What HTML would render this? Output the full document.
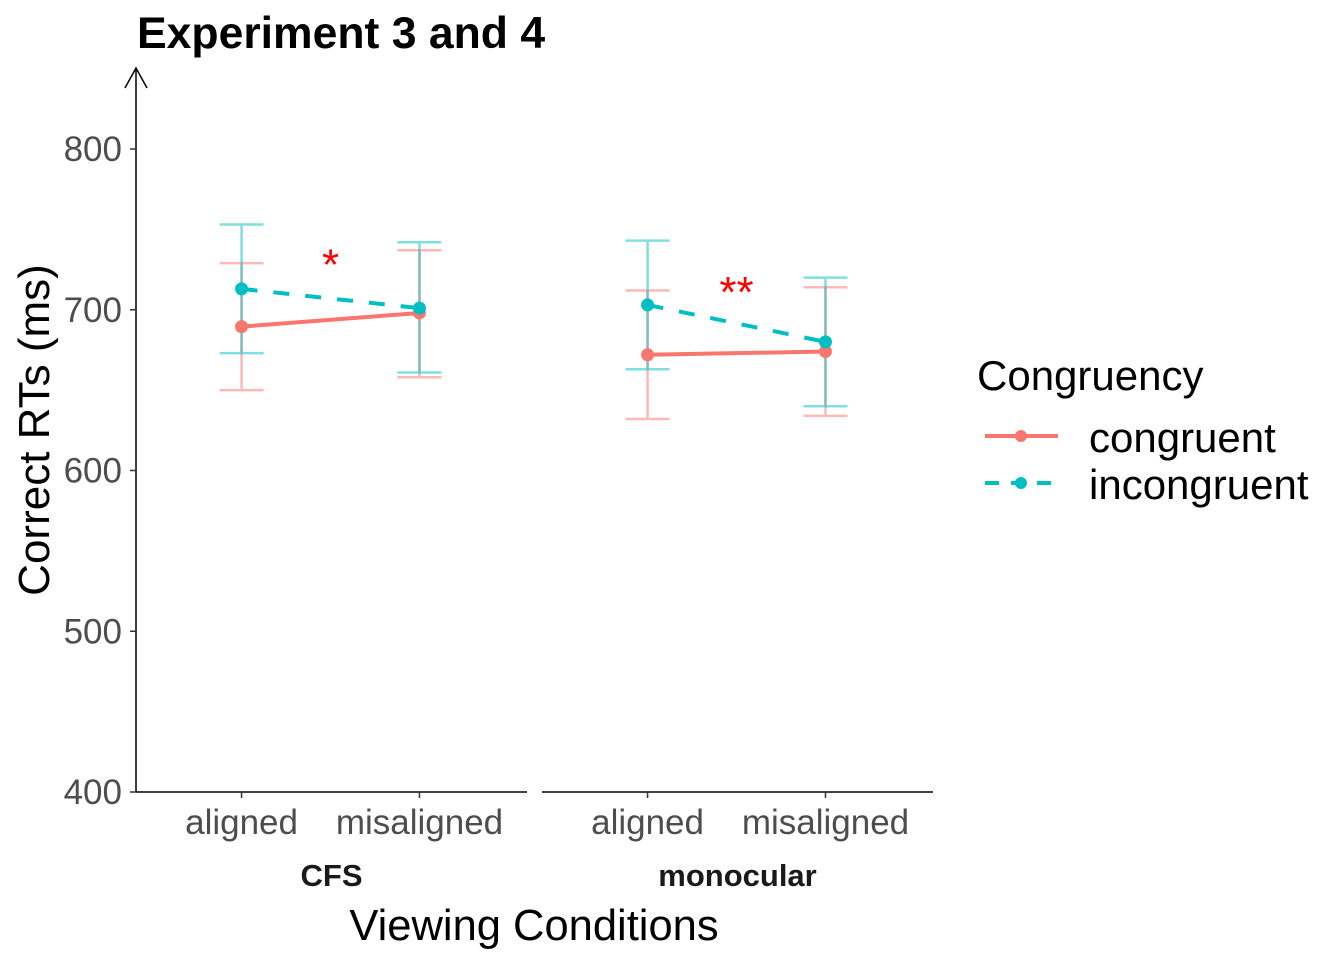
<!DOCTYPE html>
<html><head><meta charset="utf-8"><style>
html,body{margin:0;padding:0;background:#fff;}
svg{display:block;font-family:"Liberation Sans",Arial,sans-serif;}
</style></head><body>
<svg id="chart" width="1344" height="960" viewBox="0 0 1344 960">
<text x="137" y="48" font-size="44.5" font-weight="bold" fill="#000">Experiment 3 and 4</text>
<g id="axes"></g>
<g id="marks"></g>
<text x="0" y="0" transform="translate(49,430) rotate(-90)" text-anchor="middle" font-size="44" fill="#000">Correct RTs (ms)</text>
<text x="534" y="940" text-anchor="middle" font-size="43.5" fill="#000">Viewing Conditions</text>
<g>
<text x="977" y="390" font-size="42" fill="#000">Congruency</text>
<g>
<line x1="985" y1="436" x2="1058" y2="436" stroke="#F8766D" stroke-width="4"/>
<circle cx="1021" cy="436" r="6" fill="#F8766D"/>
<text x="1089" y="452" font-size="42" fill="#000">congruent</text></g>
<g>
<line x1="985" y1="483" x2="1058" y2="483" stroke="#00BFC4" stroke-width="4" stroke-dasharray="14 12"/>
<circle cx="1021" cy="483" r="6" fill="#00BFC4"/>
<text x="1089" y="499" font-size="42" fill="#000">incongruent</text></g>
</g>
</svg>
<script>
const panels = ["CFS", "monocular"];
const categories = ["aligned", "misaligned"];
const yTicks = [400, 500, 600, 700, 800];
const congruentMean = [[689.5, 698], [672, 674]];
const congruentLow = [[650, 658], [632, 634]];
const congruentHigh = [[729, 737], [712, 714]];
const incongruentMean = [[713, 701], [703, 680]];
const incongruentLow = [[673, 661], [663, 640]];
const incongruentHigh = [[753, 742], [743, 720]];
const sigLabels = ["*", "**"];
const sigValues = [728, 711];

const NS = "http://www.w3.org/2000/svg";
function y(v){ return 792 - (v - 400) * (643/400); }
const panelLeft = [136, 542], panelW = 391;
function x(p, c){ return panelLeft[p] + panelW * (c === 0 ? 0.27 : 0.725); }
function mk(tag, attrs, parent){ const e = document.createElementNS(NS, tag); for (const k in attrs) e.setAttribute(k, attrs[k]); parent.appendChild(e); return e; }
const axes = document.getElementById("axes"), marks = document.getElementById("marks");

const yAxis = mk("path", {d:"M136,792 L136,68 M125,88 L136,68 L147,88", stroke:"#000", "stroke-width":1.5, fill:"none"}, axes);


yTicks.forEach(t => {
  const tk = mk("line", {x1:130, x2:136, y1:y(t), y2:y(t), stroke:"#333", "stroke-width":1.5}, axes);
  
  
  const lb = mk("text", {x:122, y:y(t)+12, "text-anchor":"end", "font-size":35, fill:"#4d4d4d"}, axes);
  lb.textContent = t;
  
  
});
panels.forEach((p, pi) => {
  const ax = mk("line", {x1:panelLeft[pi], x2:panelLeft[pi]+panelW, y1:792, y2:792, stroke:"#000", "stroke-width":1.5}, axes);
  
  
  categories.forEach((c, ci) => {
    const tk = mk("line", {x1:x(pi,ci), x2:x(pi,ci), y1:792, y2:798, stroke:"#333", "stroke-width":1.5}, axes);
    
    
    const lb = mk("text", {x:x(pi,ci), y:834, "text-anchor":"middle", "font-size":35, fill:"#4d4d4d"}, axes);
    lb.textContent = c;
    
    
  });
  const st = mk("text", {x:panelLeft[pi]+panelW*0.5, y:886, "text-anchor":"middle", "font-size":31, "font-weight":"bold", fill:"#1a1a1a"}, axes);
  st.textContent = p;
  
  

  const series = [
    {name:"congruent", col:"#F8766D", m:congruentMean, lo:congruentLow, hi:congruentHigh, dash:null},
    {name:"incongruent", col:"#00BFC4", m:incongruentMean, lo:incongruentLow, hi:incongruentHigh, dash:"16 16"}
  ];
  series.forEach(s => {
    categories.forEach((c, ci) => {
      const cx = x(pi,ci);
      const eb = mk("path", {d:`M${cx-22},${y(s.hi[pi][ci])} H${cx+22} M${cx},${y(s.hi[pi][ci])} V${y(s.lo[pi][ci])} M${cx-22},${y(s.lo[pi][ci])} H${cx+22}`, stroke:s.col, "stroke-width":2.5, "stroke-opacity":0.5, fill:"none"}, marks);
      
      
    });
  });
  series.forEach(s => {
    const ln = mk("line", {x1:x(pi,0), y1:y(s.m[pi][0]), x2:x(pi,1), y2:y(s.m[pi][1]), stroke:s.col, "stroke-width":4}, marks);
    if (s.dash) ln.setAttribute("stroke-dasharray", s.dash);
    
    
    categories.forEach((c, ci) => {
      const pt = mk("circle", {cx:x(pi,ci), cy:y(s.m[pi][ci]), r:6.5, fill:s.col}, marks);
      
      
    });
  });
  const sg = mk("text", {x:(x(pi,0)+x(pi,1))/2, y:y(sigValues[pi])+15, "text-anchor":"middle", "font-size":44, fill:"#ff0000"}, marks);
  sg.textContent = sigLabels[pi];
  
  
});
</script>
</body></html>
